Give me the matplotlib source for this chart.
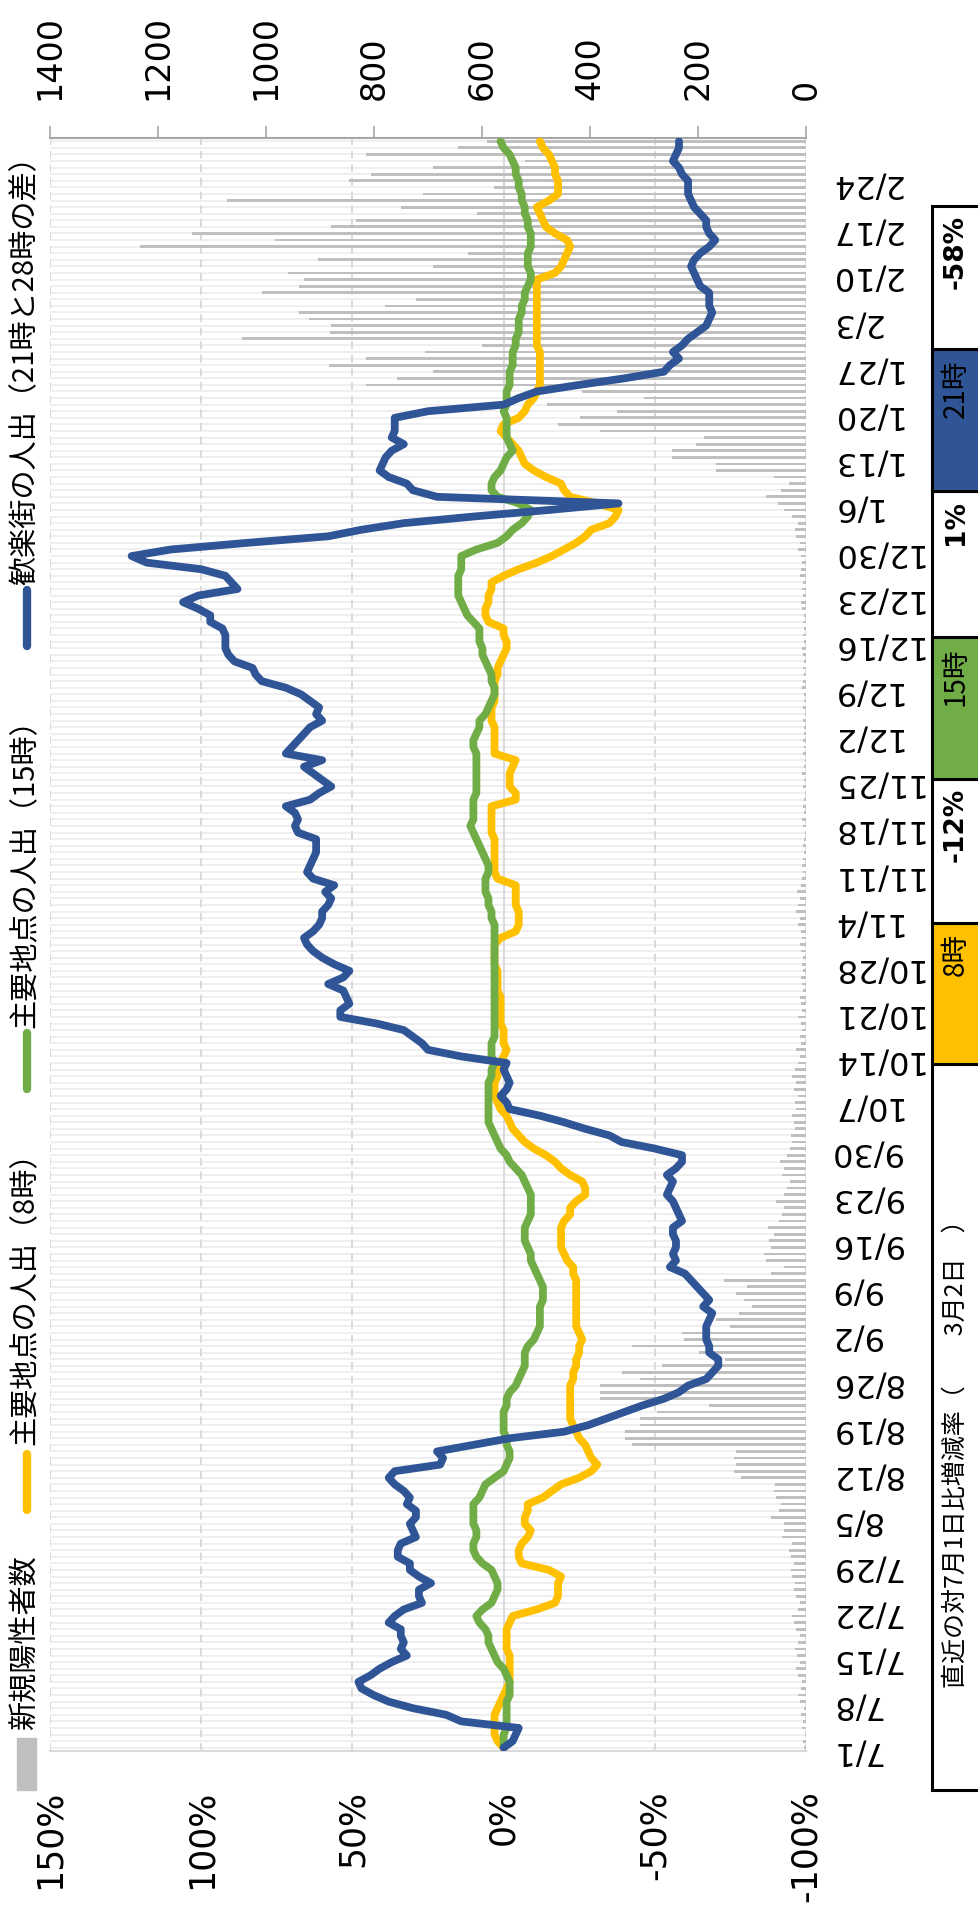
import matplotlib
matplotlib.use("Agg")
import matplotlib.pyplot as plt
from matplotlib.patches import Rectangle
from matplotlib.lines import Line2D
import numpy as np

# size of the picture in pixels
W, H = 979, 1912
def fx(p):
    return p / W
def fy(p):
    return 1 - p / H

JP = ['Noto Sans CJK JP', 'DejaVu Sans']

# ---- data (one value per day, 7/1 .. 3/2) ----
tick_labels = ["7/1", "7/8", "7/15", "7/22", "7/29", "8/5", "8/12", "8/19", "8/26",
               "9/2", "9/9", "9/16", "9/23", "9/30", "10/7", "10/14", "10/21", "10/28",
               "11/4", "11/11", "11/18", "11/25", "12/2", "12/9", "12/16", "12/23",
               "12/30", "1/6", "1/13", "1/20", "1/27", "2/3", "2/10", "2/17", "2/24"]
tick_pos = [0, 7, 14, 21, 28, 35, 42, 49, 56, 63, 70, 77, 84, 91, 98, 105, 112, 119,
            126, 133, 140, 147, 154, 161, 168, 175, 182, 189, 196, 203, 210, 217, 224,
            231, 238]

# 新規陽性者数
cases = [3, 5, 2, 8, 6, 10, 4, 12, 15, 10, 8, 14, 18, 12, 16, 20, 15, 12, 18, 22, 25,
         15, 12, 18, 22, 20, 25, 28, 23, 28, 32, 26, 45, 41, 40, 64, 50, 46, 55, 60, 58,
         120, 134, 129, 134, 130, 322, 336, 336, 308, 308, 276, 180, 382, 382, 382, 308,
         341, 267, 150, 198, 322, 226, 230, 140, 166, 124, 100, 115, 129, 110, 152, 64,
         41, 74, 78, 64, 69, 60,
         70, 50, 45, 40, 55, 40, 35, 30, 45, 40, 48, 35, 30, 25, 28, 20, 22, 25, 18, 20,
         15, 22, 18, 25, 20, 15, 12, 18, 10, 12, 8, 10, 14, 8, 10, 12, 6, 8, 10, 5,
         8, 6, 10, 12, 8, 10, 15, 12, 18, 14, 12, 16, 10, 8, 6, 8,
         5, 3, 6, 4, 2, 5, 8, 3, 6, 4, 2, 5, 3, 7, 4, 2, 6, 3, 5, 4,
         3, 6, 2, 5, 4, 3, 7, 5, 4, 6, 3, 5, 8, 4, 6, 3, 5, 4, 7, 10,
         6, 8, 5, 12, 9, 7, 10, 14, 12, 18, 20, 15,
         25, 40, 51, 74, 46, 32, 60, 166, 166, 249, 249, 203, 189, 382, 460, 419, 350,
         480, 300, 414, 815, 757, 691, 884, 815, 705, 600, 1045, 881, 880, 921, 939,
         780, 723, 1008, 938, 930, 960, 691, 903, 626, 1234, 984, 1137, 880, 833, 610,
         750, 1073, 709, 578, 847, 806, 690, 520, 815, 645, 590]

# 主要地点の人出（8時） %
am8 = [0, 2, 3, 3, 3, 3, 2, 1, 0, -1,
       -2, -2, -2, -2, -2, -1, -1, -1, -1, -2,
       -3, -11, -17, -18, -18, -18, -19, -15, -6, -5,
       -5, -6, -8, -9, -7, -7, -8, -8, -13, -16,
       -19, -25, -29, -31, -29, -28, -27, -25, -24, -23,
       -22, -22, -22, -22, -22, -22, -23, -23, -24, -24,
       -25, -25, -26, -25, -24, -24, -24, -24, -24, -24,
       -24, -24, -23, -23, -21, -20, -19, -19, -19, -19,
       -20, -22, -22, -24, -27, -27, -26, -22, -19, -17,
       -14, -10, -7, -5, -3, -2, -1, 1, 2, 3,
       3, 3, 2, 2, 1, 0, -1, 0, 0, 0,
       1, 1, 1, 1, 1, 2, 2, 2, 2, 3,
       3, 3, 3, 1, -4, -5, -5, -5, -4, -4,
       -4, -4, 2, 3, 3, 3, 3, 3, 3, 4,
       4, 4, 4, 4, -4, -4, -2, -2, -2, -3,
       -4, 3, 3, 3, 3, 3, 4, 4, 4, 3,
       3, 3, 3, 2, 2, 1, 0, -1, -1, 0,
       0, 5, 6, 6, 5, 5, 4, 4, 0, -5,
       -11, -16, -20, -24, -27, -29, -35, -37, -38, -31,
       -22, -20, -19, -14, -10, -7, -6, -5, -3, -1,
       1, 0, -5, -7, -8, -10, -11, -12, -12, -12,
       -12, -12, -12, -11, -11, -11, -11, -11, -11, -11,
       -11, -11, -11, -11, -17, -19, -20, -21, -22, -21,
       -17, -14, -13, -12, -11, -15, -18, -18, -18, -17,
       -17, -16, -15, -13, -12]

# 主要地点の人出（15時） %
pm3 = [0, 0, 0, -1, -1, -1, -1, -1, -2, -2,
       -2, -1, 0, 2, 3, 4, 5, 5, 6, 8,
       9, 7, 4, 3, 2, 2, 3, 4, 7, 9,
       10, 10, 9, 9, 10, 10, 10, 10, 8, 7,
       6, 3, 0, -1, -2, -2, -1, -1, 0, 0,
       0, 0, -1, -1, -2, -4, -5, -6, -7, -7,
       -7, -8, -10, -11, -12, -12, -12, -12, -13, -13,
       -13, -12, -11, -10, -9, -9, -8, -7, -7, -7,
       -8, -9, -9, -9, -9, -8, -7, -6, -4, -2,
       -1, 1, 2, 3, 4, 5, 5, 5, 5, 5,
       5, 5, 4, 4, 3, 4, 4, 4, 3, 3,
       3, 3, 3, 3, 3, 3, 3, 3, 3, 3,
       3, 3, 3, 3, 3, 3, 4, 4, 5, 5,
       6, 6, 6, 5, 5, 6, 7, 8, 9, 10,
       11, 10, 10, 10, 10, 9, 9, 9, 9, 9,
       9, 9, 10, 10, 9, 8, 8, 6, 5, 4,
       3, 3, 4, 4, 5, 6, 7, 7, 8, 8,
       8, 10, 12, 13, 14, 15, 15, 15, 15, 14,
       14, 14, 9, 2, -1, -3, -6, -8, -9, -5,
       2, 4, 4, 3, 1, 0, -1, -3, -2, -1,
       -1, -1, -1, 0, -1, -1, -1, -2, -2, -2,
       -3, -3, -3, -4, -4, -5, -5, -5, -6, -6,
       -7, -7, -8, -9, -9, -8, -8, -8, -9, -9,
       -9, -8, -8, -7, -7, -6, -6, -5, -5, -4,
       -4, -3, -2, 0, 1]

# 歓楽街の人出（21時と28時の差） %
night = [0, -3, -4, -5, 14, 19, 30, 38, 43, 47,
         48, 44, 41, 37, 32, 34, 33, 34, 34, 38,
         36, 33, 27, 28, 28, 24, 28, 31, 31, 35,
         35, 34, 29, 30, 31, 29, 29, 32, 31, 33,
         36, 38, 36, 21, 20, 22, 10, -2, -20, -28,
         -34, -40, -46, -53, -58, -61, -67, -69, -71, -71,
         -68, -68, -67, -67, -67, -68, -69, -66, -68, -66,
         -64, -62, -60, -55, -57, -56, -57, -57, -56, -56,
         -59, -58, -57, -56, -54, -55, -56, -54, -57, -59,
         -59, -50, -39, -35, -27, -20, -12, -2, -1, 1,
         -1, -2, -1, 0, -1, 14, 25, 27, 30, 33,
         42, 54, 54, 51, 52, 53, 58, 53, 51, 56,
         60, 63, 65, 66, 63, 61, 60, 60, 58, 57,
         59, 56, 63, 65, 64, 63, 62, 62, 62, 68,
         69, 68, 69, 72, 64, 61, 57, 60, 63, 66,
         60, 72, 70, 68, 66, 64, 60, 62, 61, 64,
         67, 72, 80, 82, 83, 89, 91, 92, 92, 92,
         93, 97, 97, 101, 106, 101, 88, 90, 92, 100,
         118, 123, 110, 85, 58, 47, 33, 10, -15, -38,
         22, 30, 32, 38, 41, 40, 39, 37, 33, 37,
         36, 36, 36, 25, 0, -5, -11, -25, -40, -53,
         -55, -58, -56, -59, -61, -64, -67, -68, -69, -68,
         -68, -68, -65, -64, -63, -62, -63, -65, -68, -70,
         -68, -67, -67, -65, -63, -62, -61, -61, -61, -59,
         -58, -56, -57, -58, -58]

count_ticks = [0, 200, 400, 600, 800, 1000, 1200, 1400]
pct_ticks = [1.5, 1.0, 0.5, 0.0, -0.5, -1.0]
pct_labels = ["150%", "100%", "50%", "0%", "-50%", "-100%"]

series_names = ["新規陽性者数", "主要地点の人出（8時）", "主要地点の人出（15時）",
                "歓楽街の人出（21時と28時の差）"]
series_colors = ["#bfbfbf", "#ffc000", "#70ad47", "#2f5597"]

table_title = "直近の対7月1日比増減率（　　3月2日　）"
table_hours = ["8時", "15時", "21時"]
table_change = ["-12%", "1%", "-58%"]

# ---- figure (the landscape chart turned a quarter turn) ----
fig = plt.figure(figsize=(W / 100, H / 100), dpi=100)
L, R, T, B = 50, 806, 138, 1751
ax_c = fig.add_axes([fx(L), fy(B), (R - L) / W, (B - T) / H])
ax_p = ax_c.twiny()
ax_p.set_xlim(1.5, -1.0)

days = np.arange(len(cases))
ax_c.hlines(days, 0, 1400, colors='#efefef', lw=1.4, zorder=0)
for v in pct_ticks:
    ax_c.plot([v, v], [0, 1], transform=ax_p.get_xaxis_transform(), color='#d9d9d9',
              lw=1.4, ls='-' if v == 0 else (0, (4, 3)), zorder=0.5)
ax_c.barh(days, cases, height=0.42, color=series_colors[0], zorder=1)
ax_c.set_xlim(1400, 0)
ax_c.set_ylim(-0.5, len(cases) - 0.5)

ax_c.xaxis.tick_top()
ax_c.set_xticks(count_ticks)
ax_c.set_xticklabels([str(v) for v in count_ticks], rotation=90, fontsize=24)
ax_c.tick_params(axis='x', direction='out', length=8.6, width=1.2, color='#a6a6a6', pad=19)
ax_c.yaxis.tick_right()
ax_c.set_yticks(tick_pos)
ax_c.set_yticklabels(tick_labels, rotation=180, fontsize=23)
ax_c.tick_params(axis='y', length=0, pad=17)
for s in ['left', 'right', 'bottom']:
    ax_c.spines[s].set_visible(False)
ax_c.spines['top'].set_color('#a6a6a6')
ax_c.spines['top'].set_linewidth(1.5)

for vals, col in zip([am8, pm3, night], series_colors[1:]):
    ax_p.plot(np.array(vals) / 100, np.arange(len(vals)), color=col, lw=5.6,
              solid_joinstyle='round', solid_capstyle='round', zorder=3)
ax_p.set_ylim(-0.5, len(cases) - 0.5)
ax_p.xaxis.set_ticks_position('bottom')
ax_p.set_xticks(pct_ticks)
ax_p.set_xticklabels(pct_labels, rotation=90, fontsize=25)
ax_p.tick_params(axis='x', length=0, pad=28)
for s in ['left', 'right', 'top']:
    ax_p.spines[s].set_visible(False)
ax_p.spines['bottom'].set_color('#d9d9d9')
ax_p.spines['bottom'].set_linewidth(1.5)

# ---- legend, drawn by hand because it is turned ----
fig.add_artist(Rectangle((fx(17), fy(1790)), 19 / W, 52 / H, color=series_colors[0],
                         transform=fig.transFigure))
fig.text(fx(26), fy(1730), series_names[0], rotation=90, rotation_mode='anchor',
         ha='left', va='center', fontsize=21, family=JP)
leg = [(1510, 1454, 1445), (1089, 1033, 1028), (646, 590, 585)]
for (y0, y1, ty), name, col in zip(leg, series_names[1:], series_colors[1:]):
    fig.add_artist(Line2D([fx(27), fx(27)], [fy(y0), fy(y1)], color=col, lw=6,
                          solid_capstyle='round', transform=fig.transFigure))
    fig.text(fx(26), fy(ty), name, rotation=90, rotation_mode='anchor',
             ha='left', va='center', fontsize=21, family=JP)

# ---- table on the right ----
cells = [(1064, 1790, 'white'), (923, 1064, '#ffc000'), (779, 923, 'white'),
         (637, 779, '#70ad47'), (491, 637, 'white'), (349, 491, '#2f5597'),
         (206, 349, 'white')]
for y_top, y_bot, col in cells:
    fig.add_artist(Rectangle((fx(932), fy(y_bot)), 60 / W, (y_bot - y_top) / H,
                             facecolor=col, edgecolor='black', lw=2.2,
                             transform=fig.transFigure))
fig.text(fx(956), fy(1448), table_title, rotation=90, rotation_mode='anchor',
         ha='center', va='center', fontsize=18, family=JP)
for i in range(3):
    hour_cell = cells[1 + 2 * i]
    chg_cell = cells[2 + 2 * i]
    fig.text(fx(956), fy(hour_cell[0] + 10), table_hours[i], rotation=90,
             rotation_mode='anchor', ha='right', va='center', fontsize=20, family=JP)
    fig.text(fx(956), fy(chg_cell[0] + 9), table_change[i], rotation=90,
             rotation_mode='anchor', ha='right', va='center', fontsize=19,
             fontweight='bold')

fig.savefig("out.png", dpi=100)
